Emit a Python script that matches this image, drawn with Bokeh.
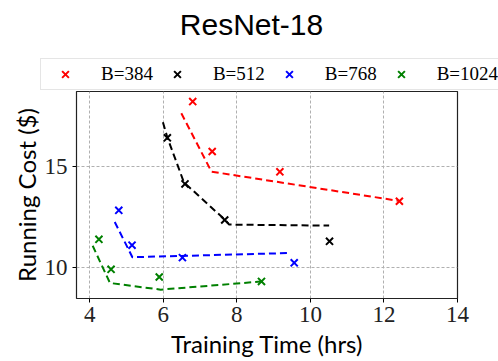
from bokeh.plotting import figure
from bokeh.models import Legend, LegendItem, Range1d, FixedTicker, Label
from bokeh.embed import file_html
from bokeh.resources import INLINE

# ---- data ----
chart_title = "ResNet-18"
series_labels = ["B=384", "B=512", "B=768", "B=1024"]
series_colors = ["red", "black", "blue", "green"]

# measured runs (Training Time hrs, Running Cost $)
b384_time = [6.80, 7.33, 9.17, 12.42]
b384_cost = [18.23, 15.75, 14.74, 13.28]
b512_time = [6.11, 6.59, 7.67, 10.52]
b512_cost = [16.43, 14.14, 12.35, 11.29]
b768_time = [4.79, 5.15, 6.52, 9.56]
b768_cost = [12.83, 11.10, 10.48, 10.22]
b1024_time = [4.25, 4.58, 5.89, 8.67]
b1024_cost = [11.39, 9.90, 9.52, 9.30]

# fitted (dashed) curves
b384_fit_time = [6.49, 7.31, 12.40]
b384_fit_cost = [17.65, 14.75, 13.30]
b512_fit_time = [5.99, 6.11, 6.56, 7.70, 7.79, 10.51]
b512_fit_cost = [17.20, 16.45, 14.22, 12.32, 12.12, 12.07]
b768_fit_time = [4.68, 5.16, 9.47]
b768_fit_cost = [12.25, 10.50, 10.71]
b1024_fit_time = [4.08, 4.55, 5.93, 8.65]
b1024_fit_cost = [11.07, 9.22, 8.89, 9.29]

x_ticks = [4, 6, 8, 10, 12, 14]
y_ticks = [10, 15]

points = [(b384_time, b384_cost), (b512_time, b512_cost),
          (b768_time, b768_cost), (b1024_time, b1024_cost)]
fits = [(b384_fit_time, b384_fit_cost), (b512_fit_time, b512_fit_cost),
        (b768_fit_time, b768_fit_cost), (b1024_fit_time, b1024_fit_cost)]

MARKER_SIZE = 10
MARKER_LW = 2

# ---------------- header: title + legend ----------------
head = figure(width=498, height=91, output_backend="svg", toolbar_location=None,
              x_range=Range1d(0, 498), y_range=Range1d(0, 91),
              x_axis_type=None, y_axis_type=None,
              min_border_left=0, min_border_right=0, min_border_top=0,
              min_border_bottom=0)
head.title = None
head.outline_line_color = None
head.xgrid.visible = False
head.ygrid.visible = False
head.background_fill_color = "white"
head.border_fill_color = "white"

head.add_layout(Label(x=251, y=67, text=chart_title, text_align="center",
                      text_baseline="alphabetic", text_font="Liberation Sans",
                      text_font_size="30px", text_color="black"))

# legend proxies (kept outside the visible header range)
items = []
for lab, col in zip(series_labels, series_colors):
    r = head.scatter([-1000], [-1000], marker="x", size=MARKER_SIZE,
                     line_color=col, line_width=MARKER_LW)
    items.append(LegendItem(label=lab, renderers=[r]))

legend = Legend(items=items, orientation="horizontal", location=(40, 1),
                label_text_font="Liberation Serif", label_text_font_size="19px",
                label_text_color="black",
                glyph_width=42, glyph_height=24, label_standoff=15, spacing=3,
                padding=3, margin=0,
                border_line_color="#cccccc", border_line_width=1,
                background_fill_color="white", background_fill_alpha=1.0)
head.add_layout(legend, "center")

# ---------------- main chart ----------------
p = figure(width=498, height=270, output_backend="svg", toolbar_location=None,
           x_range=Range1d(3.64, 14.0), y_range=Range1d(8.45, 18.73),
           min_border_left=76, min_border_right=41, min_border_top=0,
           min_border_bottom=63)
p.title = None
p.background_fill_color = "white"
p.border_fill_color = "white"
p.outline_line_color = "#222222"
p.outline_line_width = 1.2

for (fx, fy), (px, py), col in zip(fits, points, series_colors):
    p.line(fx, fy, line_color=col, line_width=2, line_dash="7 4")
    p.scatter(px, py, marker="x", size=MARKER_SIZE, line_color=col,
              line_width=MARKER_LW)

for ax in (p.xaxis[0], p.yaxis[0]):
    ax.major_tick_out = 4
    ax.major_tick_in = 0
    ax.minor_tick_line_color = None
    ax.axis_line_color = None
    ax.major_tick_line_color = "black"
    ax.major_label_text_font = "Liberation Serif"
    ax.major_label_text_font_size = "23px"
    ax.major_label_text_color = "#222222"
    ax.axis_label_text_font = "Lato"
    ax.axis_label_text_font_size = "24px"
    ax.axis_label_text_font_style = "normal"
    ax.axis_label_text_color = "black"
    ax.major_label_standoff = 4

p.xaxis.axis_label_standoff = 4
p.yaxis.major_label_standoff = 5
p.yaxis.axis_label_standoff = 1

p.xaxis.ticker = FixedTicker(ticks=x_ticks)
p.yaxis.ticker = FixedTicker(ticks=y_ticks)
p.xaxis.axis_label = "Training Time (hrs)"
p.yaxis.axis_label = "Running Cost ($)"

p.xgrid.ticker = FixedTicker(ticks=x_ticks)
p.ygrid.ticker = FixedTicker(ticks=y_ticks)
for g in (p.xgrid[0], p.ygrid[0]):
    g.grid_line_color = "#b0b0b0"
    g.grid_line_dash = "3 2"
    g.grid_line_width = 1

open("out.html", "w").write(file_html([head, p], INLINE))
